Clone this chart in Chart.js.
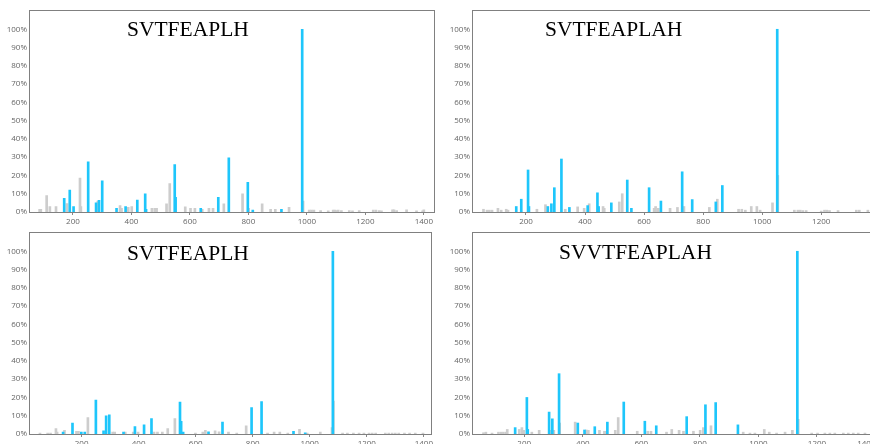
<!DOCTYPE html>
<html>
<head>
<meta charset="utf-8">
<script src="https://cdn.jsdelivr.net/npm/chart.js@4.4.1/dist/chart.umd.min.js"></script>
<style>
html,body{margin:0;padding:0;background:#fff;width:870px;height:444px;overflow:hidden;position:relative}
canvas{position:absolute}
.pep{position:absolute;font-family:"Liberation Serif","Times New Roman",serif;font-size:21.5px;line-height:21.5px;color:#000;white-space:nowrap}
</style>
</head>
<body>
<canvas id="c1" width="435" height="232" style="left:0;top:0"></canvas>
<canvas id="c2" width="470" height="232" style="left:435px;top:0"></canvas>
<canvas id="c3" width="435" height="232" style="left:0;top:222px"></canvas>
<canvas id="c4" width="470" height="232" style="left:435px;top:222px"></canvas>
<div class="pep" style="left:127px;top:19px">SVTFEAPLH</div>
<div class="pep" style="left:545px;top:19px">SVTFEAPLAH</div>
<div class="pep" style="left:127px;top:243px">SVTFEAPLH</div>
<div class="pep" style="left:559px;top:242px">SVVTFEAPLAH</div>
<script>
// panel 1 (top left)
const p1BlueMz = [170,189,202,252,279,289,300,349,380,420,447,450,548,551,637,697,733,798,815,913,984]
const p1BlueInt = [7.5,12,3,27.5,5,6.4,17,2,3,6.5,10,1.5,26,8,2,8,29.7,16.3,1,1.5,100]
const p1GreyMz = [86,90,110,121,142,179.5,224,227,285,361,366,389,401,470,480,486,520,531,584,602,617,642,665,679,716,780,801,847,876,892,939,987,1008,1016,1024,1047,1073,1090,1096,1101,1107,1118,1145,1156,1179,1227,1236,1247,1255,1293,1298,1307,1341,1375,1396,1400]
const p1GreyInt = [1.5,1.5,9,3,3,4.6,18.5,3,6,3.5,2,2.5,3,2,2,2,4.5,15.5,2.8,2,2,1.5,2,2,4.5,10,2,4.5,1.5,1.5,2.5,6,1,1,1,0.8,0.6,1,1,0.8,1,0.8,0.8,0.6,0.8,1,1,0.8,0.6,1.2,1.2,0.8,1.2,0.6,0.6,1.2]

// panel 2 (top right)
const p2BlueMz = [167,184,207,210,274,286,296,320,347,409,442,446,489,543,557,617,657,729,763,843,865,1051]
const p2BlueInt = [3,7,23,3,3,4.5,13.3,29,2.5,3.5,10.5,3,5,17.5,2,13.3,6,22,6.8,5.5,14.5,100]
const p2GreyMz = [56,68,76,85,105,116,133,139,237,266,333,375,397,414,461,465,516,526,634,639,648,688,713,735,821,848,920,931,943,963,982,993,1035,1053,1109,1121,1129,1138,1149,1200,1211,1219,1228,1257,1319,1329,1358]
const p2GreyInt = [1.5,1,1,1,2,1,1.5,1,1.5,4,1.5,2.8,2,4.5,3,2,5.5,10,2,3,2,2,2.5,3,2.5,7,1.5,1.5,1,3,3,1,5,20,1,1,1,0.8,0.8,0.5,1,1,0.8,0.8,1,1,1]

// panel 3 (bottom left)
const p3BlueMz = [135,168,199,211,250,277,286,297,347,387,419,445,545,549,556,645,694,796,831,943,984,1081]
const p3BlueInt = [1,6,1,1,18.5,1.8,10,10.5,1,4,5,8.5,17.5,7,1,1.2,6.5,14.5,17.8,1.5,0.7,100]
const p3GreyMz = [54,81,91,110,114,140,182,189,222,309,316,353,381,398,454,466,483,502,527,599,625,634,668,682,715,744,777,852,875,895,923,964,991,1037,1078,1083,1115,1132,1153,1173,1190,1208,1219,1231,1265,1277,1289,1300,1312,1332,1350,1370,1397]
const p3GreyInt = [0.5,0.5,0.5,3,1,2,1.5,1.5,9,1,1,1,1,1,1,1,1,3,8.5,0.5,1,2,1.8,1.2,1,0.5,4.5,0.5,1,1,0.5,2.5,0.5,1,3.5,18,0.5,0.5,0.5,0.5,0.5,0.5,0.5,0.5,0.5,0.5,0.5,0.5,0.5,0.5,0.5,0.5,0.5]

// panel 4 (bottom right)
const p4BlueMz = [169,209,212,285,296,319,383,406,441,484,540,612,651,755,819,854,930,1133]
const p4BlueInt = [3.5,20,2.5,12,8.3,33,6,2.2,4,6.5,17.5,7,4.5,9.5,16,17.2,5,100]
const p4GreyMz = [61,69,90,112,121,129,138,142,183,192,198,226,251,288,301,321,374,412,419,457,474,479,511,521,586,622,633,686,704,729,744,778,801,812,838,948,971,988,1020,1037,1062,1091,1116,1136,1182,1202,1227,1244,1261,1290,1307,1324,1341,1364]
const p4GreyInt = [0.7,1,0.5,1,1,1,1,2.5,2.5,3.5,2,1,2,2,2,6,6.5,2.2,2,2,1.5,1.5,2,9,1.5,1.5,1.5,1,2.5,2,1.5,1.5,2,3.5,4.5,1,0.5,0.5,2.5,1,0.5,1,2,8,0.5,0.5,0.5,0.5,0.5,0.5,0.5,0.5,0.5,0.5]

// axis ticks
const xTicks = [200,400,600,800,1000,1200,1400]
const yTicks = [0,10,20,30,40,50,60,70,80,90,100]

const blue = '#1ec6fb'
const grey = '#cdcdcd'

// frame round the plot area
const boxPlugin = {
  id: 'box',
  afterDraw(chart){
    const a = chart.chartArea
    const ctx = chart.ctx
    ctx.save()
    ctx.strokeStyle = '#808080'
    ctx.lineWidth = 1
    ctx.strokeRect(Math.round(a.left)-0.5, Math.round(a.top)-0.5, Math.round(a.right-a.left)+1, Math.round(a.bottom-a.top)+1)
    ctx.restore()
  }
}

function pts(xs, ys){
  return xs.map((x,i)=>({x:x, y:ys[i]}))
}

// inner: keep the last label inside the edge (first tick is a blank one at xmin)
function makeChart(id, bx, by, gx, gy, xmin, xmax, yw, padRight, inner){
  new Chart(document.getElementById(id),{
    type:'bar',
    data:{
      datasets:[
        {data:pts(bx,by), backgroundColor:blue, barThickness:2, grouped:false},
        {data:pts(gx,gy), backgroundColor:grey, barThickness:2, grouped:false}
      ]
    },
    options:{
      responsive:false,
      animation:false,
      devicePixelRatio:1,
      layout:{padding:{top:11,right:padRight,left:0,bottom:0}},
      plugins:{legend:{display:false}, tooltip:{enabled:false}},
      scales:{
        x:{
          type:'linear', min:xmin, max:xmax, offset:false,
          afterBuildTicks(s){
            const t = xTicks.filter(v=>v<=xmax).map(v=>({value:v}))
            s.ticks = inner ? [{value:xmin}].concat(t) : t
          },
          afterFit(s){ s.height = 20 },
          ticks:{autoSkip:false, maxRotation:0, padding:2, color:'#666', align: inner ? 'inner' : 'center',
            font:{family:'"Open Sans", sans-serif', size:8},
            callback:v => (xTicks.includes(v) ? String(v) : '')},
          grid:{display:true, offset:false, drawOnChartArea:false, drawTicks:true, tickLength:3,
            color:c => (c.tick && xTicks.includes(c.tick.value) ? '#888' : 'rgba(0,0,0,0)')},
          border:{display:false}
        },
        y:{
          min:0, max:110,
          afterBuildTicks(s){ s.ticks = yTicks.map(v=>({value:v})) },
          afterFit(s){ s.width = yw },
          ticks:{padding:3, color:'#666', font:{family:'"Open Sans", sans-serif', size:8}, callback:v=>v+'%'},
          grid:{display:false, drawTicks:false},
          border:{display:false}
        }
      }
    },
    plugins:[boxPlugin]
  })
}

makeChart('c1', p1BlueMz, p1BlueInt, p1GreyMz, p1GreyInt, 53, 1434, 30, 1, false)
makeChart('c2', p2BlueMz, p2BlueInt, p2GreyMz, p2GreyInt, 20.5, 1372, 38, 33, false)
makeChart('c3', p3BlueMz, p3BlueInt, p3GreyMz, p3GreyInt, 19, 1424, 30, 1, false)
makeChart('c4', p4BlueMz, p4BlueInt, p4GreyMz, p4GreyInt, 25, 1429, 38, 21, true)
</script>
</body>
</html>
